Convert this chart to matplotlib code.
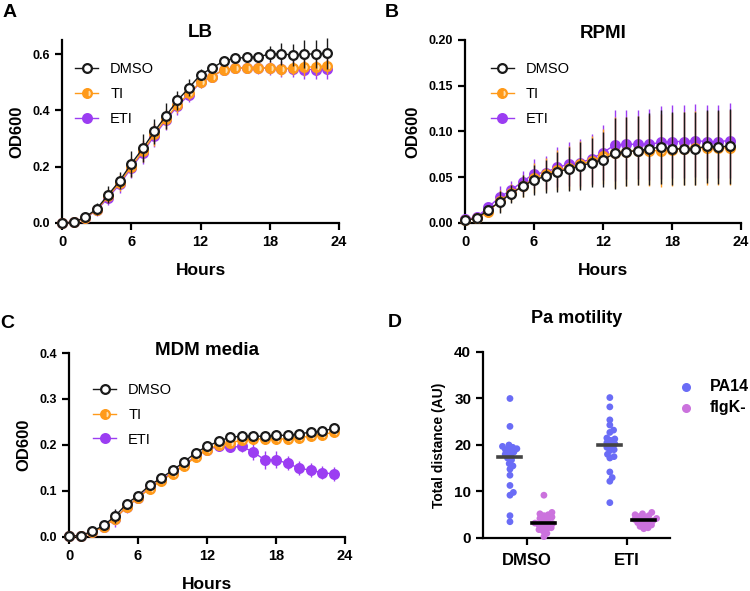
import numpy as np
import matplotlib
matplotlib.use("Agg")
import matplotlib.pyplot as plt

plt.rcParams['font.family'] = ['Liberation Sans', 'DejaVu Sans']

hours = np.arange(24)

# LB
lb_dmso = [0.0, 0.003, 0.02, 0.05, 0.10, 0.15, 0.21, 0.265, 0.325, 0.38, 0.435, 0.48,
           0.527, 0.55, 0.575, 0.585, 0.588, 0.59, 0.60, 0.60, 0.597, 0.60, 0.60, 0.603]
lb_ti = [0.0, 0.003, 0.018, 0.047, 0.095, 0.143, 0.20, 0.255, 0.315, 0.37, 0.42, 0.46,
         0.50, 0.52, 0.545, 0.55, 0.552, 0.552, 0.55, 0.548, 0.55, 0.553, 0.555, 0.558]
lb_eti = [0.0, 0.003, 0.017, 0.045, 0.09, 0.138, 0.195, 0.25, 0.31, 0.365, 0.415, 0.455,
          0.50, 0.52, 0.545, 0.55, 0.55, 0.55, 0.55, 0.547, 0.548, 0.545, 0.545, 0.548]
lb_dmso_err = [0.002, 0.003, 0.01, 0.02, 0.03, 0.03, 0.045, 0.05, 0.045, 0.045, 0.035, 0.03,
               0.02, 0.012, 0.01, 0.01, 0.01, 0.015, 0.03, 0.04, 0.04, 0.05, 0.05, 0.055]
lb_ti_err = [0.002, 0.003, 0.01, 0.02, 0.025, 0.03, 0.035, 0.04, 0.04, 0.035, 0.03, 0.025,
             0.02, 0.015, 0.012, 0.012, 0.015, 0.02, 0.02, 0.025, 0.025, 0.03, 0.03, 0.03]
lb_eti_err = [0.002, 0.003, 0.01, 0.02, 0.025, 0.03, 0.035, 0.04, 0.04, 0.035, 0.03, 0.025,
              0.02, 0.015, 0.012, 0.012, 0.015, 0.02, 0.025, 0.03, 0.03, 0.035, 0.035, 0.035]

# RPMI
rp_dmso = [0.003, 0.005, 0.014, 0.023, 0.032, 0.040, 0.047, 0.051, 0.056, 0.059, 0.062, 0.066,
           0.069, 0.076, 0.078, 0.079, 0.081, 0.083, 0.081, 0.081, 0.081, 0.084, 0.083, 0.084]
rp_ti = [0.003, 0.005, 0.012, 0.024, 0.033, 0.040, 0.049, 0.053, 0.058, 0.060, 0.064, 0.068,
         0.073, 0.077, 0.078, 0.079, 0.079, 0.079, 0.080, 0.081, 0.082, 0.082, 0.082, 0.082]
rp_eti = [0.004, 0.006, 0.017, 0.028, 0.036, 0.045, 0.054, 0.055, 0.061, 0.064, 0.066, 0.070,
          0.077, 0.085, 0.086, 0.086, 0.086, 0.088, 0.089, 0.089, 0.090, 0.089, 0.089, 0.090]
rp_err = [0.001, 0.002, 0.005, 0.012, 0.01, 0.012, 0.016, 0.018, 0.022, 0.024, 0.026, 0.027,
          0.03, 0.039, 0.038, 0.038, 0.039, 0.04, 0.04, 0.04, 0.04, 0.04, 0.04, 0.041]

# MDM media
md_dmso = [0.002, 0.003, 0.012, 0.025, 0.045, 0.072, 0.09, 0.112, 0.128, 0.145, 0.163, 0.183,
           0.197, 0.208, 0.217, 0.219, 0.219, 0.219, 0.221, 0.221, 0.224, 0.228, 0.230, 0.236]
md_ti = [0.002, 0.003, 0.011, 0.022, 0.04, 0.065, 0.085, 0.105, 0.122, 0.138, 0.155, 0.173,
         0.19, 0.20, 0.205, 0.21, 0.213, 0.213, 0.212, 0.214, 0.215, 0.22, 0.222, 0.228]
md_eti = [0.002, 0.003, 0.011, 0.022, 0.04, 0.065, 0.085, 0.107, 0.124, 0.14, 0.157, 0.175,
          0.19, 0.197, 0.195, 0.197, 0.185, 0.168, 0.168, 0.16, 0.15, 0.145, 0.14, 0.137]
md_dmso_err = [0.002, 0.002, 0.004, 0.01, 0.015, 0.01, 0.008, 0.008, 0.007, 0.006, 0.006, 0.006,
               0.005, 0.005, 0.005, 0.005, 0.005, 0.005, 0.006, 0.006, 0.007, 0.007, 0.008, 0.008]
md_eti_err = [0.002, 0.002, 0.005, 0.012, 0.018, 0.012, 0.01, 0.008, 0.008, 0.007, 0.007, 0.007,
              0.008, 0.01, 0.01, 0.012, 0.018, 0.02, 0.018, 0.015, 0.016, 0.015, 0.015, 0.015]

# Pa motility
groups = ["DMSO", "ETI"]
pa14_dmso = [30.0, 24.0, 20.0, 19.7, 19.5, 19.2, 19.0, 18.8, 18.5, 18.0, 17.8, 17.2, 16.8,
             16.0, 15.5, 14.8, 13.5, 11.3, 9.8, 9.2, 4.8, 3.5]
pa14_eti = [30.2, 28.2, 25.4, 24.3, 23.2, 22.7, 21.5, 21.3, 21.0, 20.5, 20.2, 20.0, 19.5,
            19.0, 18.8, 18.0, 17.5, 17.2, 14.2, 13.0, 12.2, 7.6]
flgk_dmso = [9.2, 5.5, 5.2, 5.0, 4.8, 4.5, 4.2, 4.0, 3.8, 3.2, 3.1, 3.0, 2.8, 2.5, 2.2,
             2.0, 1.8, 1.5, 1.0, 0.3]
flgk_eti = [5.5, 5.2, 5.0, 4.8, 4.6, 4.4, 4.2, 4.0, 3.8, 3.7, 3.5, 3.3, 3.0, 2.8, 2.5, 2.2, 2.0]

BLACK = '#1a1a1a'
ORANGE = '#FF9A1A'
PURPLE = '#9B3DF2'
BLUE = '#6A6CF6'
VIOLET = '#CB72DD'


def style_axes(ax):
    for s in ['top', 'right']:
        ax.spines[s].set_visible(False)
    for s in ['left', 'bottom']:
        ax.spines[s].set_linewidth(1.6)
        ax.spines[s].set_color('black')
    ax.tick_params(width=1.6, length=5, direction='out')
    for lab in ax.get_xticklabels():
        lab.set_fontweight('bold')
        lab.set_fontsize(10.5)
    for lab in ax.get_yticklabels():
        lab.set_fontweight('bold')
        lab.set_fontsize(9)


def growth_panel(ax, dmso, ti, eti, e_dmso, e_ti, e_eti, ymax, ystep, fmt, title, title_y,
                 leg_xy):
    kw = dict(lw=1, elinewidth=1, capsize=0, ms=6.3, mew=1.6, clip_on=False)
    h_eti = ax.errorbar(hours, eti, yerr=e_eti, fmt='-o', color=PURPLE, ecolor=PURPLE,
                        mfc=PURPLE, mec=PURPLE, zorder=3, **kw)
    h_ti = ax.errorbar(hours, ti, yerr=e_ti, fmt='-o', color=ORANGE, ecolor=ORANGE,
                       mfc=ORANGE, mec=ORANGE, fillstyle='left', mfcalt='#FFE0B0', zorder=4, **kw)
    h_dmso = ax.errorbar(hours, dmso, yerr=e_dmso, fmt='-o', color=BLACK, ecolor=BLACK,
                         mfc='white', mec=BLACK, zorder=5, **kw)
    ax.set_xlim(0, 24)
    ax.set_ylim(0, ymax)
    ax.set_xticks([0, 6, 12, 18, 24])
    ax.set_yticks(np.arange(0, ymax + 1e-9, ystep))
    ax.set_yticklabels([fmt.format(v) for v in np.arange(0, ymax + 1e-9, ystep)])
    style_axes(ax)
    ax.set_xlabel("Hours", fontsize=12.5, fontweight='bold', labelpad=10)
    ax.set_ylabel("OD600", fontsize=12, fontweight='bold', labelpad=6)
    ax.text(0.5, title_y, title, transform=ax.transAxes, ha='center', va='center',
            fontsize=13.5, fontweight='bold')
    leg = ax.legend([h_dmso[0], h_ti[0], h_eti[0]], ["DMSO", "TI", "ETI"],
                    loc='upper left', bbox_to_anchor=leg_xy, frameon=False,
                    fontsize=10.5, handlelength=1.6, handletextpad=0.8, labelspacing=0.75)
    return leg


fig = plt.figure(figsize=(7.5, 5.91), dpi=100)

axA = fig.add_axes([0.0827, 0.6227, 0.3693, 0.3097])
growth_panel(axA, lb_dmso, lb_ti, lb_eti, lb_dmso_err, lb_ti_err, lb_eti_err,
             0.65, 0.2, "{:.1f}", "LB", 1.04, (0.0, 0.95))
axA.set_ylim(0, 0.65)

axB = fig.add_axes([0.62, 0.6227, 0.368, 0.3097])
growth_panel(axB, rp_dmso, rp_ti, rp_eti, rp_err, rp_err, rp_err,
             0.2, 0.05, "{:.2f}", "RPMI", 1.035, (0.045, 0.95))

axC = fig.add_axes([0.092, 0.0914, 0.368, 0.3113])
growth_panel(axC, md_dmso, md_ti, md_eti, md_dmso_err, md_dmso_err, md_eti_err,
             0.4, 0.1, "{:.1f}", "MDM media", 1.015, (0.04, 0.91))

# Panel D: swarm plot
axD = fig.add_axes([0.644, 0.0897, 0.249, 0.3147])
axD.set_xlim(-0.44, 1.43)
axD.set_ylim(0, 40)
axD.set_xticks([0, 1])
axD.set_xticklabels(groups)
axD.set_yticks([0, 10, 20, 30, 40])
style_axes(axD)
axD.tick_params(axis='x', pad=6)
for lab in axD.get_xticklabels():
    lab.set_fontsize(12)
for lab in axD.get_yticklabels():
    lab.set_fontsize(11)
axD.set_ylabel("Total distance (AU)", fontsize=10, fontweight='bold', labelpad=6)
axD.text(0.5, 1.18, "Pa motility", transform=axD.transAxes, ha='center', va='center',
         fontsize=13, fontweight='bold')


def swarm_x(ax, xc, vals, d_px):
    disp = ax.transData.transform([(xc, v) for v in vals])
    ys = disp[:, 1]
    px_per_unit = ax.transData.transform((1, 0))[0] - ax.transData.transform((0, 0))[0]
    order = np.argsort(ys)
    placed = []
    xs = np.zeros(len(vals))
    for i in order:
        y = ys[i]
        cands = [0.0]
        for (px, py) in placed:
            dy = abs(py - y)
            if dy < d_px:
                dx = np.sqrt(d_px ** 2 - dy ** 2)
                cands += [px + dx, px - dx]
        cands.sort(key=abs)
        for c in cands:
            if all((c - px) ** 2 + (y - py) ** 2 >= d_px ** 2 - 1e-6 for (px, py) in placed):
                xs[i] = c
                break
        placed.append((xs[i], y))
    return xc + xs / px_per_unit


off = 0.17
sets = [(0 - off, pa14_dmso, BLUE, '#444444'), (0 + off, flgk_dmso, VIOLET, 'black'),
        (1 - off, pa14_eti, BLUE, '#444444'), (1 + off, flgk_eti, VIOLET, 'black')]
for xc, vals, col, lcol in sets:
    xs = swarm_x(axD, xc, vals, 4.4)
    axD.scatter(xs, vals, s=24, color=col, edgecolors='none', zorder=3, clip_on=False)
    axD.plot([xc - 0.115, xc + 0.115], [np.median(vals)] * 2, color=lcol, lw=2.6, zorder=4)

axD.scatter([], [], s=30, color=BLUE, label="PA14")
axD.scatter([], [], s=30, color=VIOLET, label="flgK-")
legD = axD.legend(loc='center left', bbox_to_anchor=(0.97, 0.76), frameon=False,
                  handletextpad=0.7, labelspacing=0.45, borderaxespad=0.2)
for t in legD.get_texts():
    t.set_fontweight('bold')
    t.set_fontsize(11.5)

for lbl, x, y in [("A", 0.003, 0.993), ("B", 0.513, 0.993), ("C", 0.0, 0.467), ("D", 0.517, 0.469)]:
    fig.text(x, y, lbl, fontsize=14, fontweight='bold', va='top', ha='left')

fig.savefig("out.png", dpi=100)
